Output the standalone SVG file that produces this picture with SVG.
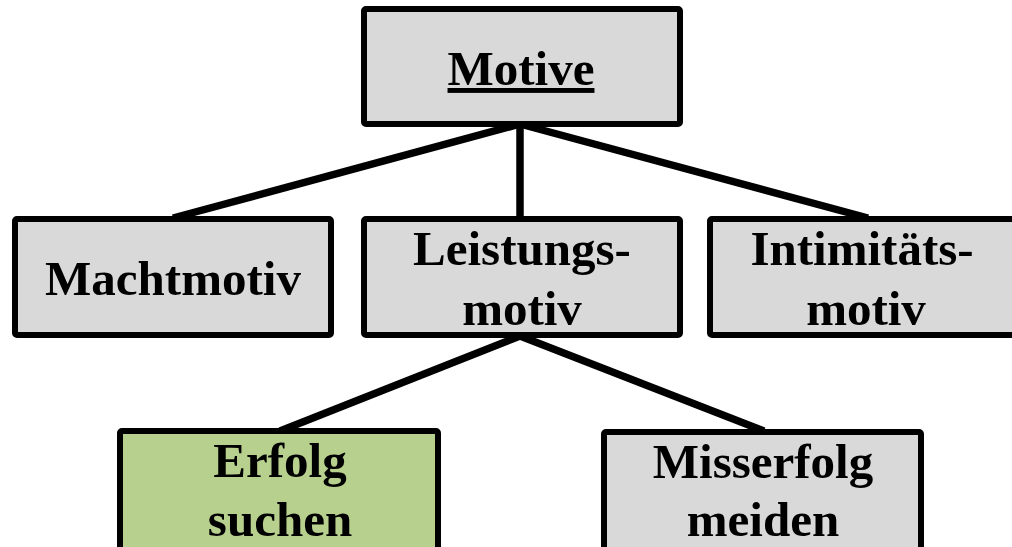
<svg xmlns="http://www.w3.org/2000/svg" width="1012" height="547" viewBox="0 0 1012 547">
<style>
.box{fill:#d9d9d9;stroke:#000;stroke-width:6;}
.green{fill:#b8d08d;}
.t{font-family:"Liberation Serif",serif;font-weight:bold;font-size:49px;fill:#000;text-anchor:middle;}
.c{stroke:#000;stroke-width:7.5;fill:none;}
</style>
<rect width="1012" height="547" fill="#fff"/>
<g id="connectors">
<line class="c" x1="520" y1="124" x2="173" y2="218"/>
<line class="c" x1="520" y1="124" x2="520" y2="218"/>
<line class="c" x1="520" y1="124" x2="868" y2="218"/>
<line class="c" x1="520" y1="336" x2="280" y2="431"/>
<line class="c" x1="520" y1="336" x2="764" y2="431"/>
</g>
<g id="motive">
<rect class="box" x="364" y="9" width="316" height="115" rx="2"/>
<text class="t" x="521" y="85" text-decoration="underline">Motive</text>
</g>
<g id="machtmotiv">
<rect class="box" x="15" y="219" width="316" height="116" rx="2"/>
<text class="t" x="173" y="295">Machtmotiv</text>
</g>
<g id="leistungsmotiv">
<rect class="box" x="364" y="219" width="316" height="116" rx="2"/>
<text class="t" x="522" y="265">Leistungs-</text>
<text class="t" x="522" y="325">motiv</text>
</g>
<g id="intimitaetsmotiv">
<rect class="box" x="710" y="219" width="316" height="116" rx="2"/>
<text class="t" x="862" y="265">Intimitäts-</text>
<text class="t" x="866" y="325">motiv</text>
</g>
<g id="erfolg">
<rect class="box green" x="120" y="431" width="318" height="130" rx="2"/>
<text class="t" x="280" y="477">Erfolg</text>
<text class="t" x="280" y="536">suchen</text>
</g>
<g id="misserfolg">
<rect class="box" x="604" y="432" width="317" height="130" rx="2"/>
<text class="t" x="763" y="478">Misserfolg</text>
<text class="t" x="763" y="536">meiden</text>
</g>
</svg>
